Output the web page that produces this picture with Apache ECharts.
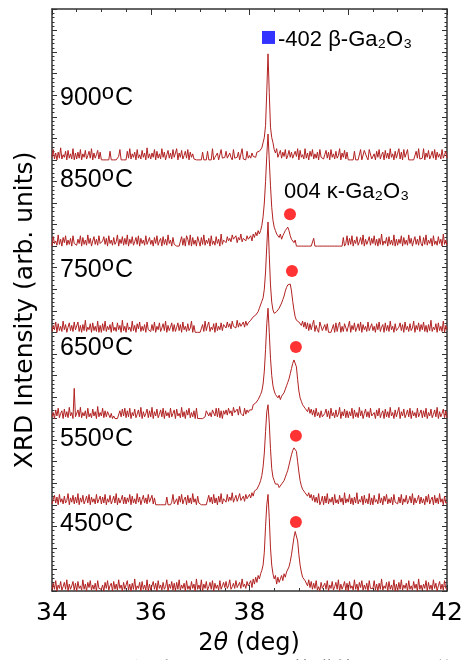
<!DOCTYPE html>
<html><head><meta charset="utf-8">
<script src="https://cdn.jsdelivr.net/npm/echarts@6/dist/echarts.min.js"></script>
<style>html,body{margin:0;padding:0;background:#fff}#c{width:469px;height:660px}</style>
</head><body><div id="c"></div>
<script>
// 2θ scan grid (deg)
const twoThetaStart = 34;
const twoThetaStep = 0.025;
const xTicks = [34, 36, 38, 40, 42];
const temps = ['450', '550', '650', '750', '850', '900'];

// intensities (arb. units, 100 = stacking step), one value per 2θ step
const int450 = [
1,9,2,12,0,7,3,11,1,5,10,2,13,0,8,2,6,11,1,9,
0,11,3,6,1,13,2,8,0,10,4,12,1,7,2,9,0,12,3,5,
2,7,0,10,3,12,1,6,9,0,11,2,8,1,13,3,7,0,10,2,
3,12,1,8,0,9,2,14,1,6,3,10,0,11,2,7,1,13,0,8,
1,6,11,2,9,0,12,3,7,1,10,2,5,13,0,8,3,11,1,9,
0,10,2,13,1,7,3,9,0,12,2,6,1,11,3,8,0,14,2,7,
2,13,0,8,3,11,1,5,10,2,12,0,9,3,7,1,12,2,6,10,
4,11,3,6,13,2,5,9,3,12,4,7,10,3,14,5,8,3,11,6,
6,12,4,14,8,16,10,18,14,20,24,30,45,75,100,112,85,50,30,20,
14,18,8,16,10,14,18,12,20,16,22,24,28,34,42,52,62,69,70,58,
42,30,22,16,18,12,14,6,13,4,11,2,9,3,12,1,5,0,10,3,
1,9,2,12,0,7,3,11,1,5,10,2,13,0,8,2,6,11,1,9,
0,11,3,6,1,13,2,8,0,10,4,12,1,7,2,9,0,12,3,5,
3,12,1,8,0,9,2,14,1,6,3,10,0,11,2,7,1,13,0,8,
0,10,2,13,1,7,3,9,0,12,2,6,1,11,3,8,0,14,2,7,
1,8,3,12,0,10,2,7,1,13,3,9,0,6,11,2,8,1,12,3,
2];
const int550 = [
1,6,11,2,9,0,12,3,7,1,10,2,5,13,0,8,3,11,1,9,
2,13,0,8,3,11,1,5,10,2,12,0,9,3,7,1,12,2,6,10,
1,9,2,12,0,7,3,11,1,5,10,2,13,0,8,2,6,11,1,9,
1,8,3,12,0,10,2,7,1,13,3,9,0,6,11,2,8,1,12,3,
2,11,1,8,0,0,0,0,0,0,0,0,0,9,0,0,0,3,12,1,
2,7,0,10,3,12,1,6,9,0,11,2,8,1,13,3,7,0,10,2,
1,0,0,0,0,0,2,11,3,9,1,12,2,8,0,10,3,13,1,7,
6,3,12,4,9,5,14,3,7,11,4,8,13,5,6,10,4,12,7,5,
12,8,14,10,16,14,18,20,24,28,34,44,60,85,108,116,95,65,42,32,
28,24,22,24,20,22,24,26,28,32,36,40,46,52,58,63,66,67,62,50,
38,28,22,18,16,14,16,10,14,8,12,5,11,3,9,2,13,0,4,10,
0,10,2,13,1,7,3,9,0,12,2,6,1,11,3,8,0,14,2,7,
3,12,1,8,0,9,2,14,1,6,3,10,0,11,2,7,1,13,0,8,
0,11,3,6,1,13,2,8,0,10,4,12,1,7,2,9,0,12,3,5,
1,9,2,12,0,7,3,11,1,5,10,2,13,0,8,2,6,11,1,9,
2,7,0,10,3,12,1,6,9,0,11,2,8,1,13,3,7,0,10,2,
3];
const int650 = [
2,7,0,10,3,12,1,6,9,0,11,2,8,1,13,3,7,0,35,2,
0,10,2,13,1,7,3,9,0,12,2,6,1,11,3,8,0,14,2,7,
3,12,1,9,2,8,10,1,6,0,3,0,0,0,0,9,2,11,3,12,
1,9,2,12,0,7,3,11,1,5,10,2,13,0,8,2,6,11,1,9,
2,13,0,8,3,11,1,5,10,2,12,0,9,3,7,1,12,2,6,10,
0,11,3,6,1,13,2,8,0,10,4,12,1,7,2,9,0,12,0,0,
0,0,0,0,2,9,11,3,7,2,10,8,3,12,2,12,1,9,0,9,
5,10,4,12,6,9,3,13,7,5,11,4,14,6,8,3,12,5,10,7,
10,12,10,16,14,18,20,22,24,28,32,40,55,80,110,128,100,70,50,38,
32,28,26,24,27,22,26,28,30,34,38,42,46,52,58,64,68,70,60,45,
32,24,20,16,18,12,14,8,13,6,11,4,10,2,12,3,7,1,9,2,
1,6,11,2,9,0,12,3,7,1,10,2,5,13,0,8,3,11,1,9,
1,8,3,12,0,10,2,7,1,13,3,9,0,6,11,2,8,1,12,3,
2,7,0,10,3,12,1,6,9,0,11,2,8,1,13,3,7,0,10,2,
2,13,0,8,3,11,1,5,10,2,12,0,9,3,7,1,12,2,6,10,
1,9,2,12,0,7,3,11,1,5,10,2,13,0,8,2,6,11,1,9,
1];
const int750 = [
1,8,3,12,0,10,2,7,1,13,3,9,0,6,11,2,8,1,12,3,
3,12,1,8,0,9,2,14,1,6,3,10,0,11,2,7,1,13,0,8,
0,10,2,13,1,7,3,9,0,12,2,6,1,11,3,8,0,14,2,7,
0,11,3,6,1,13,2,8,0,10,4,12,1,7,2,9,0,12,3,5,
1,9,2,12,0,7,3,11,1,5,10,2,13,0,8,2,6,11,1,9,
1,6,11,2,9,0,12,3,7,1,10,2,5,13,0,8,0,0,0,0,
0,0,9,1,13,2,8,12,1,6,3,10,0,11,2,7,3,11,2,9,
8,5,12,6,10,4,13,7,9,5,14,6,11,7,9,12,6,13,8,11,
10,14,12,18,16,20,22,24,28,30,36,40,50,70,100,128,90,55,35,26,
22,20,24,26,28,30,34,38,42,48,52,55,54,56,48,36,26,18,14,16,
12,14,8,13,6,12,4,11,2,10,3,9,14,1,8,3,0,12,7,2,
1,9,2,10,0,0,0,0,9,0,11,1,8,12,0,7,1,10,8,1,
2,13,0,8,3,11,1,5,10,2,12,0,9,3,7,1,12,2,6,10,
2,7,0,10,3,12,1,6,9,0,11,2,8,1,13,3,7,0,10,2,
1,6,11,2,9,0,12,3,7,1,10,2,5,13,0,8,3,11,1,9,
3,12,1,8,0,9,2,14,1,6,3,10,0,11,2,7,1,13,0,8,
3];
const int850 = [
0,11,3,6,1,13,2,8,0,10,4,12,1,7,2,9,0,12,3,5,
1,8,3,12,0,10,2,7,1,13,3,9,0,6,11,2,8,1,12,3,
1,6,11,2,9,0,12,3,7,1,10,2,5,13,0,8,3,11,1,9,
2,13,0,8,3,11,1,5,10,2,12,0,9,3,7,1,12,2,6,10,
2,7,0,10,3,12,1,6,9,0,11,2,8,1,13,3,7,0,10,2,
0,0,0,0,2,11,1,9,0,12,8,1,13,0,10,2,7,0,11,10,
0,10,2,13,1,7,3,9,0,12,2,6,1,11,3,8,0,14,2,7,
7,4,11,6,9,5,13,8,6,12,4,10,7,14,5,9,11,6,12,8,
8,12,6,14,10,16,12,18,14,18,24,34,50,75,105,130,100,70,45,30,
22,18,14,16,10,14,8,12,15,18,20,22,18,12,8,10,4,7,0,0,
0,0,0,0,0,0,0,0,0,0,0,0,9,0,0,0,0,0,0,0,
0,0,0,0,0,0,0,0,0,0,0,0,0,0,0,0,10,0,3,12,
1,9,2,12,0,7,3,11,1,5,10,2,13,0,8,2,6,11,1,9,
3,12,1,8,0,9,2,14,1,6,3,10,0,11,2,7,1,13,0,8,
1,8,3,12,0,10,2,7,1,13,3,9,0,6,11,2,8,1,12,3,
0,10,2,13,1,7,3,9,0,12,2,6,1,11,3,8,0,14,2,7,
1];
const int900 = [
3,12,1,8,0,9,2,14,1,6,3,10,0,11,2,7,1,13,0,8,
1,9,2,12,0,7,3,11,1,5,10,2,13,0,8,2,6,11,1,9,
0,0,0,0,0,0,0,10,0,0,0,0,0,0,4,12,0,0,0,0,
0,10,2,13,1,7,3,9,0,12,2,6,1,11,3,8,0,14,2,7,
1,8,3,12,0,10,2,7,1,13,3,9,0,6,11,2,8,1,12,3,
2,13,0,8,3,11,1,5,10,2,12,0,9,3,7,1,0,0,0,0,
0,0,9,0,0,0,10,0,2,0,13,0,3,1,8,0,0,12,2,1,
3,10,2,1,8,3,0,12,2,1,3,9,0,2,13,1,3,0,10,2,
5,2,8,4,6,3,9,7,10,12,14,20,26,40,80,123,78,38,26,20,
12,8,13,3,7,11,2,9,4,12,1,5,11,3,9,2,0,10,4,13,
0,11,3,6,1,13,2,8,0,10,4,12,1,7,2,9,0,12,3,5,
1,6,11,2,9,0,12,3,7,1,10,2,5,13,0,8,3,11,1,9,
0,0,0,0,0,10,0,0,0,0,12,0,2,11,9,3,0,12,13,1,
2,7,0,10,3,12,1,6,9,0,11,2,8,1,13,3,7,0,10,2,
2,13,1,9,0,12,3,1,12,0,0,0,0,0,0,10,2,13,1,0,
2,13,0,8,3,11,1,5,10,2,12,0,9,3,7,1,12,2,6,10,
2];
const traces = [int450, int550, int650, int750, int850, int900];
const stackStep = 100;

// peak markers (2θ, stacked intensity)
const kappaX = [38.94, 38.94, 38.94, 38.86, 38.82];
const kappaY = [80, 180, 283, 371, 437];
const betaX = [38.385];
const betaY = [642];

const chart = echarts.init(document.getElementById('c'), null, {renderer: 'canvas'});
const lineColor = '#b22222';
const axisCol = '#333';

const series = traces.map((arr, k) => ({
  type: 'line',
  name: temps[k],
  data: arr.map((v, i) => [twoThetaStart + i * twoThetaStep, k * stackStep + v]),
  showSymbol: false,
  symbol: 'none',
  lineStyle: {color: lineColor, width: 1},
  itemStyle: {color: lineColor},
  clip: true,
  animation: false,
  z: 2
}));
series.push({
  type: 'scatter',
  data: kappaX.map((x, i) => [x, kappaY[i]]),
  symbol: 'circle', symbolSize: 12,
  itemStyle: {color: '#ff0000'},
  animation: false, z: 3
});
series.push({
  type: 'scatter',
  data: betaX.map((x, i) => [x, betaY[i]]),
  symbol: 'rect', symbolSize: 13,
  itemStyle: {color: '#0000ff'},
  animation: false, z: 3
});

function xAx(pos, showLabel) {
  return {
    type: 'value', min: xTicks[0], max: xTicks[xTicks.length - 1], interval: 2, position: pos,
    axisLine: {show: true, onZero: false, lineStyle: {color: axisCol, width: 1.5}},
    axisTick: {show: true, inside: true, length: 6, lineStyle: {color: axisCol, width: 1}},
    minorTick: {show: true, splitNumber: 4, length: 3, lineStyle: {color: axisCol, width: 1}},
    splitLine: {show: false},
    axisLabel: {show: showLabel, fontSize: 25, fontFamily: 'DejaVu Sans', color: '#000', margin: 10}
  };
}
function yAx(pos) {
  return {
    type: 'value', min: 0, max: 675, interval: 25, position: pos,
    axisLine: {show: true, onZero: false, lineStyle: {color: axisCol, width: 1.5}},
    axisTick: {show: true, inside: true, length: 5, lineStyle: {color: axisCol, width: 1}},
    minorTick: {show: true, splitNumber: 5, length: 2.5, lineStyle: {color: axisCol, width: 1}},
    splitLine: {show: false},
    axisLabel: {show: false}
  };
}

const labelY = [524, 439, 348, 270, 180, 98];
const graphics = temps.map((t, k) => ({
  type: 'text', x: 60, y: labelY[k],
  style: {
    text: '{n|' + t + '}{s|o}{n|C}', align: 'left', verticalAlign: 'middle',
    rich: {
      n: {fontSize: 25, fontFamily: 'Liberation Sans', lineHeight: 30, fill: '#000'},
      s: {fontSize: 22, fontFamily: 'Liberation Sans', lineHeight: 20, padding: [0, 1, 10, 0], fill: '#000'}
    }
  }
}));
graphics.push({
  type: 'text', x: 278, y: 40,
  style: {text: '-402 β-Ga₂O₃', font: '22px "Liberation Sans"', fill: '#000', align: 'left', verticalAlign: 'middle'}
});
graphics.push({
  type: 'text', x: 284, y: 192,
  style: {text: '004 κ-Ga₂O₃', font: '22px "Liberation Sans"', fill: '#000', align: 'left', verticalAlign: 'middle'}
});
graphics.push({
  type: 'text', x: 25, y: 310, rotation: Math.PI / 2,
  style: {text: 'XRD Intensity (arb. units)', font: '25px "DejaVu Sans"', fill: '#000', align: 'center', verticalAlign: 'middle'}
});
graphics.push({
  type: 'text', x: 249, y: 644,
  style: {
    text: '{a|2}{b|θ}{a| (deg)}', align: 'center', verticalAlign: 'middle',
    rich: {a: {fontSize: 24, fontFamily: 'DejaVu Sans', fill: '#000'}, b: {fontSize: 24, fontFamily: 'DejaVu Sans', fontStyle: 'italic', fill: '#000'}}
  }
});
graphics.push({
  type: 'text', left: 13, top: 659,
  style: {text: '图 7 (a) 不同温度退火 Ga₂O₃ 薄膜的 XRD 图谱', font: '22px "Noto Sans CJK SC"', fill: '#222'}
});

chart.setOption({
  animation: false,
  backgroundColor: '#fff',
  grid: {left: 52, right: 22, top: 9, bottom: 69, containLabel: false},
  xAxis: [xAx('bottom', true), xAx('top', false)],
  yAxis: [yAx('left'), yAx('right')],
  series: series,
  graphic: graphics
});
</script>
</body></html>
